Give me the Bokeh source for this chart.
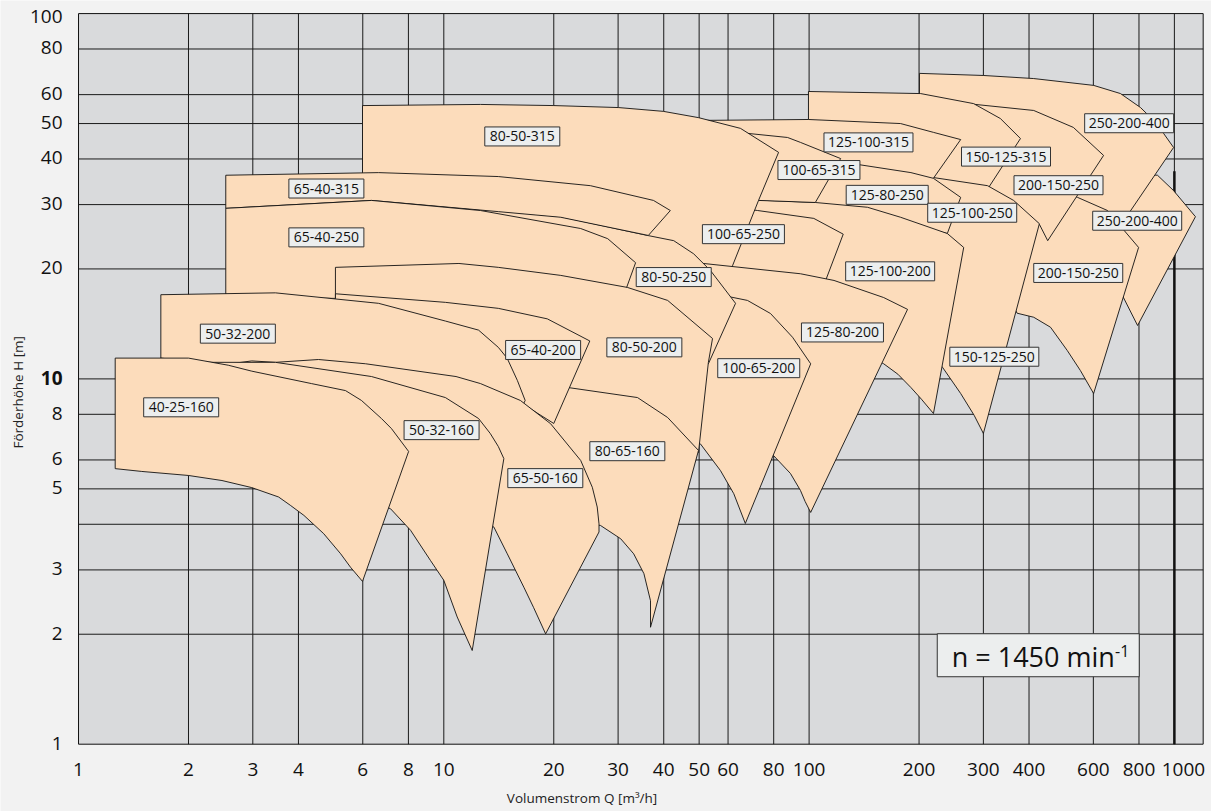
from math import pi
from bokeh.plotting import figure
from bokeh.models import Range1d, ColumnDataSource
from bokeh.core.properties import value
from bokeh.embed import file_html
from bokeh.resources import INLINE

FONT = "Open Sans"

# ---------------- axes / grid ----------------
Q_MIN, Q_MAX = 1, 1199          # plotted flow range (m3/h)
H_MIN, H_MAX = 1, 100           # plotted head range (m)
X_TICKS = [1, 2, 3, 4, 6, 8, 10, 20, 30, 40, 50, 60, 80, 100, 200, 300, 400, 600, 800]
X_TICK_LAST = 1000
Y_TICKS = [1, 2, 3, 5, 6, 8, 20, 30, 40, 50, 60, 80, 100]
Y_TICK_BOLD = 10
X_GRID = [2, 3, 4, 6, 8, 10, 20, 30, 40, 50, 60, 80, 100, 200, 300, 400, 600, 800, 1000]
Y_GRID = [2, 3, 4, 5, 6, 8, 10, 20, 30, 40, 50, 60, 80]
THICK_Q = [1000]
THICK_H0 = [1]
THICK_H1 = [37]

# visible window of the canvas (so that the axes' texts can sit outside the plot box)
X_VIEW = (0.6115, 1263.6)
Y_VIEW = (0.6543, 108.6)

# ---------------- pump ranges (Q in m3/h, H in m), drawing order ----------------
Q_250_200_400b = [660, 899, 994, 1142, 793, 721, 648]
H_250_200_400b = [36.7, 36.1, 32.8, 27.8, 14.0, 16.9, 20.1]

Q_250_200_400a = [200.5, 300, 412, 601, 712, 808, 877, 934, 995, 703, 589, 458, 334, 200.5]
H_250_200_400a = [68.6, 67.7, 66.4, 63.6, 60.4, 55.3, 51.0, 47.0, 43.0, 25.8, 25.2, 26.8, 29.8, 31.8]

Q_200_150_250b = [444, 543, 656, 721, 798, 601, 553, 509, 458, 412, 371, 356, 404]
H_200_150_250b = [33.8, 31.4, 28.9, 25.8, 22.9, 9.12, 10.54, 11.96, 13.85, 14.75, 15.13, 16.4, 23.9]

Q_200_150_250a = [215, 271, 412, 529, 640, 450, 427, 363, 308, 260, 215]
H_200_150_250a = [57.8, 56.7, 54.3, 48.8, 40.9, 23.9, 26.5, 29.8, 32.6, 34.3, 35.4]

Q_150_125_315 = [99.6, 202, 282, 334, 379, 310, 260, 178, 99.6]
H_150_125_315 = [61.2, 60.4, 56.7, 51.6, 45.5, 33.4, 34.1, 35.4, 36.3]

Q_150_125_250 = [190, 218, 308, 363, 427, 300, 283, 260, 232, 190]
H_150_125_250 = [35.4, 35.6, 33.8, 30.8, 26.6, 7.09, 7.95, 9.12, 10.75, 13.6]

Q_125_100_315 = [50.4, 99.6, 178, 219, 260, 218, 178, 130, 83.5, 53.7]
H_125_100_315 = [51.0, 51.3, 50.0, 47.3, 45.2, 35.2, 32.4, 31.2, 31.2, 32.4]

Q_125_80_250 = [88.9, 130, 190, 219, 260, 239, 178, 130, 88.9]
H_125_80_250 = [42.2, 38.9, 36.7, 35.4, 31.4, 25.0, 26.8, 28.5, 29.8]

Q_125_100_200 = [64.9, 104, 144.5, 178, 239, 265, 219, 203, 190, 175, 160, 130, 88.9, 64.9]
H_125_100_200 = [31.0, 30.4, 29.5, 27.7, 25.0, 22.9, 8.04, 8.80, 9.47, 10.3, 11.0, 12.3, 13.6, 14.4]

Q_100_65_315 = [57.2, 67.8, 87.3, 94.7, 122, 104, 72.7, 57.2]
H_100_65_315 = [47.9, 47.0, 45.8, 44.4, 40.1, 30.4, 30.8, 31.6]

Q_100_65_250 = [57.2, 72.3, 103, 124, 111, 73.6, 57.2]
H_100_65_250 = [29.8, 28.9, 27.5, 24.9, 18.6, 19.6, 20.1]

Q_80_50_315 = [5.99, 12.6, 20.0, 30.1, 39.9, 49.8, 64.9, 82.5, 72.7, 61.7, 60.2, 47.4, 34.6, 20.9, 12.6, 5.99]
H_80_50_315 = [56.0, 56.4, 56.0, 55.3, 54.0, 51.9, 48.5, 41.7, 30.8, 20.4, 19.2, 21.4, 24.2, 28.4, 30.2, 31.8]

Q_125_80_200 = [47.4, 51.4, 94.7, 117, 160, 186, 101, 97.5, 94.7, 88.9, 79.9, 64.9, 50.4, 47.4]
H_125_80_200 = [20.8, 20.7, 19.4, 18.6, 16.7, 15.5, 4.31, 4.62, 4.95, 5.51, 6.17, 7.22, 8.19, 8.46]

Q_100_65_200 = [36.8, 50.4, 60.2, 67.8, 78.4, 90.1, 101, 66.9, 62.2, 57.2, 50.4, 41.7, 36.8]
H_100_65_200 = [17.2, 17.2, 16.8, 16.4, 15.1, 13.0, 11.0, 4.02, 4.85, 5.61, 6.64, 7.69, 8.73]

Q_80_50_250 = [11.5, 20.9, 36.1, 42.6, 48.3, 53.7, 62.9, 53.0, 50.4, 44.5, 34.6, 20.9, 11.5]
H_80_50_250 = [29.5, 27.8, 24.7, 23.9, 22.0, 19.8, 16.1, 11.0, 10.9, 13.6, 16.4, 18.0, 19.2]

Q_65_40_315 = [2.53, 6.63, 14.1, 25.2, 37.5, 41.7, 36.3, 20.9, 14.1, 6.34, 2.53]
H_65_40_315 = [36.1, 36.7, 35.8, 33.8, 30.8, 28.9, 24.7, 27.7, 28.7, 30.8, 29.3]

Q_65_40_250 = [2.53, 6.34, 12.6, 23.7, 28.1, 33.5, 31.6, 30.1, 20.9, 10.4, 5.22, 2.53]
H_65_40_250 = [29.3, 30.8, 28.9, 25.8, 24.2, 20.8, 17.7, 14.9, 15.9, 16.6, 16.6, 16.8]

Q_80_50_200 = [5.05, 11.0, 14.1, 20.9, 31.8, 41.0, 54.4, 53.0, 49.8, 41.0, 33.9, 21.9, 12.6, 7.61, 5.05]
H_80_50_200 = [20.2, 20.7, 20.2, 19.2, 17.8, 16.4, 12.9, 11.1, 6.29, 7.69, 8.73, 9.29, 9.90, 10.7, 11.1]

Q_80_65_160 = [12.6, 21.9, 33.9, 41.0, 49.8, 36.8, 36.8, 35.3, 33.1, 30.5, 26.85, 20.9, 16.2, 12.6]
H_80_65_160 = [9.77, 9.47, 8.89, 7.84, 6.37, 2.09, 2.47, 2.93, 3.32, 3.65, 3.97, 4.10, 4.36, 4.50]

Q_65_40_200 = [5.05, 10.1, 14.1, 19.2, 25.1, 20.0, 16.2, 12.6, 7.61, 5.05]
H_65_40_200 = [17.1, 16.2, 15.6, 14.6, 12.7, 7.55, 8.62, 9.53, 10.4, 10.7]

Q_50_32_200 = [1.68, 3.46, 6.63, 10.1, 12.45, 14.1, 14.9, 15.9, 16.7, 14.8, 11.1, 7.61, 4.05, 2.16, 1.68]
H_50_32_200 = [17.0, 17.2, 16.1, 14.4, 13.6, 12.2, 11.4, 9.90, 8.73, 6.78, 8.19, 9.29, 10.4, 11.1, 11.4]

Q_65_50_160 = [2.61, 2.98, 3.46, 4.54, 6.11, 10.8, 12.6, 16.2, 19.6, 23.7, 25.5, 26.3, 26.6, 26.6,
               19.0, 17.6, 16.56, 14.92, 13.71, 11.8, 8.63, 4.05, 2.61]
H_65_50_160 = [11.0, 11.2, 11.1, 11.3, 11.0, 10.15, 9.71, 8.73, 7.54, 5.98, 5.05, 4.46, 4.01, 3.81,
               2.005, 2.37, 2.69, 3.32, 3.93, 4.36, 4.80, 5.27, 5.41]

Q_50_32_160 = [2.0, 2.31, 3.46, 6.34, 10.1, 12.45, 13.4, 14.1, 14.6, 11.96, 10.88, 10.0, 9.20, 8.11, 7.15,
               5.22, 3.15, 2.0]
H_50_32_160 = [11.2, 11.1, 11.1, 10.15, 8.89, 7.79, 7.09, 6.53, 6.05, 1.805, 2.23, 2.81, 3.18, 3.85, 4.41,
               5.04, 5.37, 5.54]

Q_40_25_160 = [1.26, 2.0, 2.57, 2.98, 4.34, 5.38, 5.95, 6.75, 7.19, 8.01, 5.99, 5.555, 5.22, 4.69, 4.14,
               3.81, 3.53, 2.98, 2.47, 2.0, 1.49, 1.26]
H_40_25_160 = [11.4, 11.4, 10.9, 10.5, 9.71, 9.29, 8.73, 7.79, 7.31, 6.33, 2.79, 3.05, 3.32, 3.77, 4.23,
               4.50, 4.75, 5.04, 5.27, 5.44, 5.58, 5.68]

PUMPS = [
    (Q_250_200_400b, H_250_200_400b), (Q_250_200_400a, H_250_200_400a),
    (Q_200_150_250b, H_200_150_250b), (Q_200_150_250a, H_200_150_250a),
    (Q_150_125_315, H_150_125_315), (Q_150_125_250, H_150_125_250),
    (Q_125_100_315, H_125_100_315), (Q_125_80_250, H_125_80_250),
    (Q_125_100_200, H_125_100_200), (Q_100_65_315, H_100_65_315),
    (Q_100_65_250, H_100_65_250), (Q_80_50_315, H_80_50_315),
    (Q_125_80_200, H_125_80_200), (Q_100_65_200, H_100_65_200),
    (Q_80_50_250, H_80_50_250), (Q_65_40_315, H_65_40_315),
    (Q_65_40_250, H_65_40_250), (Q_80_50_200, H_80_50_200),
    (Q_80_65_160, H_80_65_160), (Q_65_40_200, H_65_40_200),
    (Q_50_32_200, H_50_32_200), (Q_65_50_160, H_65_50_160),
    (Q_50_32_160, H_50_32_160), (Q_40_25_160, H_40_25_160),
]

# ---------------- labels ----------------
LABEL_TEXT = ["40-25-160", "50-32-160", "50-32-200", "65-40-315", "65-40-250", "80-50-315",
              "65-40-200", "80-50-200", "80-50-250", "100-65-250", "100-65-315", "125-100-315",
              "125-80-250", "125-100-250", "150-125-315", "200-150-250", "250-200-400",
              "250-200-400", "200-150-250", "125-100-200", "125-80-200", "150-125-250",
              "100-65-200", "80-65-160", "65-50-160"]
LABEL_Q = [1.91, 9.86, 2.73, 4.77, 4.77, 16.4, 18.7, 35.4, 42.6, 66.1, 106.4, 145.4,
           163.6, 279.6, 346, 481.7, 752, 791, 545.5, 166.7, 123.4, 321.4, 72.8, 31.8, 18.96]
LABEL_H = [8.36, 7.24, 13.3, 33.2, 24.4, 46.1, 12.0, 12.2, 19.0, 24.9, 37.3, 44.4,
           31.9, 28.5, 40.6, 33.9, 50.1, 27.1, 19.5, 19.7, 13.4, 11.5, 10.7, 6.34, 5.35]

SPEED_TEXT = "n = 1450 min"
SPEED_SUP = "-1"
SPEED_Q = [424]
SPEED_H = [1.752]

X_TITLE = "Volumenstrom Q [m³/h]"
X_TITLE_Q = [23.9]
Y_TITLE = "Förderhöhe H [m]"
Y_TITLE_H = [9.19]

# ---------------- figure ----------------
p = figure(width=1211, height=811, x_axis_type="log", y_axis_type="log",
           x_range=Range1d(*X_VIEW), y_range=Range1d(*Y_VIEW),
           x_axis_location=None, y_axis_location=None,
           output_backend="svg", toolbar_location=None, title=None, min_border=0)
p.background_fill_color = "#f2f2f2"
p.border_fill_color = "#f2f2f2"
p.outline_line_color = None
p.grid.visible = False

# plot box and grid
p.quad(left=[Q_MIN], right=[Q_MAX], bottom=[H_MIN], top=[H_MAX],
       fill_color="#d9dadc", line_color=None)
p.segment(x0=X_GRID, y0=[H_MIN] * len(X_GRID), x1=X_GRID, y1=[H_MAX] * len(X_GRID),
          line_color="#1a1a1a", line_width=1)
p.segment(x0=[Q_MIN] * len(Y_GRID), y0=Y_GRID, x1=[Q_MAX] * len(Y_GRID), y1=Y_GRID,
          line_color="#1a1a1a", line_width=1)
p.segment(x0=THICK_Q, y0=THICK_H0, x1=THICK_Q, y1=THICK_H1,
          line_color="#111111", line_width=2.5)

# pump ranges
src = ColumnDataSource(dict(xs=[q for q, h in PUMPS], ys=[h for q, h in PUMPS]))
p.patches("xs", "ys", source=src, fill_color="#fcdcbb", fill_alpha=1,
          line_color="#111111", line_width=0.9)

# plot box outline
p.quad(left=[Q_MIN], right=[Q_MAX], bottom=[H_MIN], top=[H_MAX],
       fill_color=None, line_color="#111111", line_width=1)

# tick labels
xt = ColumnDataSource(dict(x=X_TICKS + [X_TICK_LAST], y=[H_MIN] * (len(X_TICKS) + 1),
                           t=[str(v) for v in X_TICKS] + [str(X_TICK_LAST)],
                           dx=[0] * len(X_TICKS) + [9]))
p.text("x", "y", text="t", source=xt, x_offset="dx", y_offset=25,
       text_font=value(FONT), text_font_size="19px", text_align="center",
       text_baseline="middle", text_color="#111111")
yt = ColumnDataSource(dict(x=[Q_MIN] * len(Y_TICKS), y=Y_TICKS, t=[str(v) for v in Y_TICKS],
                           dy=[3 if v == H_MAX else -1 for v in Y_TICKS]))
p.text("x", "y", text="t", source=yt, x_offset=-16, y_offset="dy",
       text_font=value(FONT), text_font_size="19px", text_align="right",
       text_baseline="middle", text_color="#111111")
p.text(x=[Q_MIN], y=[Y_TICK_BOLD], text=[str(Y_TICK_BOLD)], x_offset=-16, y_offset=-1,
       text_font=value(FONT), text_font_size="19px", text_font_style="bold",
       text_align="right", text_baseline="middle", text_color="#111111")

# axis titles
p.text(x=X_TITLE_Q, y=[H_MIN], text=[X_TITLE], y_offset=53.5,
       text_font=value(FONT), text_font_size="13.5px", text_align="center",
       text_baseline="middle", text_color="#222222")
p.text(x=[Q_MIN], y=Y_TITLE_H, text=[Y_TITLE], x_offset=-60.5, angle=pi / 2,
       text_font=value(FONT), text_font_size="13.5px", text_align="center",
       text_baseline="middle", text_color="#222222")

# pump labels
lab = ColumnDataSource(dict(x=LABEL_Q, y=LABEL_H, text=LABEL_TEXT,
                            w=[7 * len(t) + 12 for t in LABEL_TEXT]))
p.rect("x", "y", width="w", height=19, width_units="screen", height_units="screen",
       source=lab, fill_color="#eceeee", line_color="#333333", line_width=1)
p.text("x", "y", text="text", source=lab, text_font=value(FONT), text_font_size="14px",
       text_align="center", text_baseline="middle", text_color="#111111")

# speed box
p.rect(x=SPEED_Q, y=SPEED_H, width=202, height=43, width_units="screen", height_units="screen",
       fill_color="#eceeee", line_color="#333333", line_width=1)
p.text(x=SPEED_Q, y=SPEED_H, text=[SPEED_TEXT], x_offset=-5, y_offset=1,
       text_font=value(FONT), text_font_size="27px", text_align="center",
       text_baseline="middle", text_color="#111111")
p.text(x=SPEED_Q, y=SPEED_H, text=[SPEED_SUP], x_offset=84, y_offset=-4,
       text_font=value(FONT), text_font_size="16px", text_align="center",
       text_baseline="middle", text_color="#111111")

open("out.html", "w").write(file_html(p, INLINE))
